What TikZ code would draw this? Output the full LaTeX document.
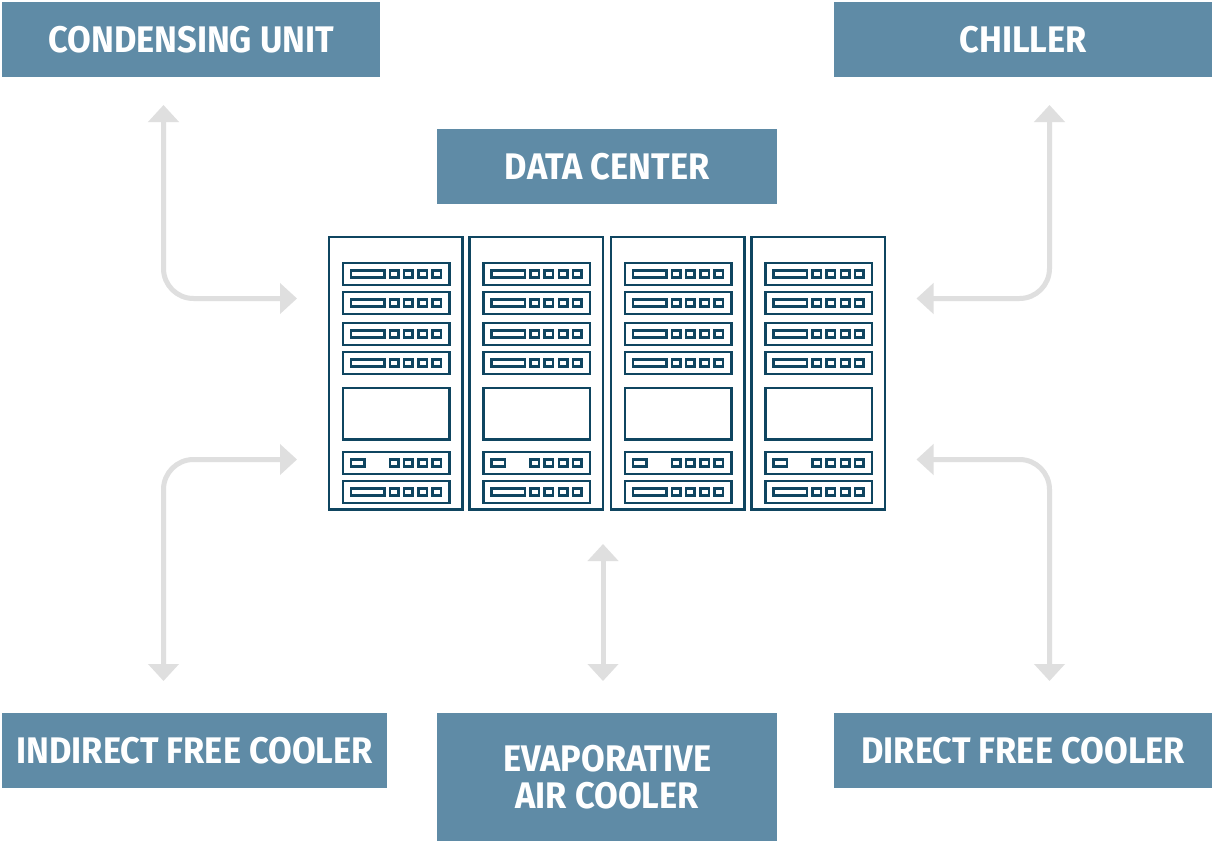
\documentclass[tikz,border=0pt]{standalone}
\usepackage{fontspec}
\setmainfont{Fira Sans}[BoldFont={Fira Sans Bold},FakeStretch=0.93]
\usetikzlibrary{arrows.meta}
\definecolor{boxblue}{HTML}{5F8BA6}
\definecolor{rackblue}{HTML}{0F4560}
\definecolor{arrowgrey}{HTML}{DFDFDF}
\tikzset{
  x=1pt,y=-1pt,
  label box/.style={fill=boxblue,text=white,anchor=north west,inner sep=0pt,align=center,
    font=\fontsize{37}{37}\selectfont\bfseries},
  link/.style={draw=arrowgrey,line width=5pt,rounded corners=30pt,
    {Triangle[width=30pt,length=17pt]}-{Triangle[width=30pt,length=17pt]}},
  rackline/.style={draw=rackblue,line width=2.4pt},
  pics/unitdots/.style={code={
    \foreach \dx in {47,61,75.5,89.5}{\draw[rackline] (\dx,-3.5) rectangle ++(8.5,7);}
  }},
  pics/unitlong/.style={code={
    \draw[rackline] (0,-11) rectangle (106.5,11);
    \draw[rackline] (8,-3.5) rectangle (41.5,3.5);
    \pic at (0,0) {unitdots};
  }},
  pics/unitshort/.style={code={
    \draw[rackline] (0,-11) rectangle (106.5,11);
    \draw[rackline] (8,-3.5) rectangle (21.5,3.5);
    \pic at (0,0) {unitdots};
  }},
  pics/rackicon/.style={code={
    \draw[rackline] (0,0) rectangle (133.5,272.5);
    \pic at (14,37) {unitlong};
    \pic at (14,66) {unitlong};
    \pic at (14,97) {unitlong};
    \pic at (14,126) {unitlong};
    \draw[rackline] (14,151) rectangle (120.5,202.5);
    \pic at (14,226) {unitshort};
    \pic at (14,255) {unitlong};
  }},
}
\begin{document}
\begin{tikzpicture}
\useasboundingbox (0,0) rectangle (1212,843);
\fill[white] (0,0) rectangle (1212,843);

\node[label box,minimum width=378pt,minimum height=75pt] (condensing) at (2,2) {CONDENSING UNIT};
\node[label box,minimum width=378pt,minimum height=75pt] (chiller) at (834,2) {CHILLER};
\node[label box,minimum width=340pt,minimum height=75pt] (datacenter) at (437,129) {DATA CENTER};
\node[label box,minimum width=385pt,minimum height=75pt] (indirect) at (2,713) {INDIRECT FREE COOLER};
\node[label box,minimum width=340pt,minimum height=128pt] (evaporative) at (437,713) {EVAPORATIVE\\[-0.5pt]AIR COOLER};
\node[label box,minimum width=378pt,minimum height=75pt] (direct) at (834,713) {DIRECT FREE COOLER};

\pic at (329,237) {rackicon};
\pic at (469.5,237) {rackicon};
\pic at (611,237) {rackicon};
\pic at (751.5,237) {rackicon};

\coordinate (cuEnd) at (163.5,105);
\coordinate (cuRack) at (297,298.5);
\coordinate (chEnd) at (1049.5,105);
\coordinate (chRack) at (916.5,298.5);
\coordinate (ifEnd) at (163.5,681);
\coordinate (ifRack) at (297,459.5);
\coordinate (dfEnd) at (1049.5,681);
\coordinate (dfRack) at (916.5,459.5);
\coordinate (evEnd) at (603,681);
\coordinate (evRack) at (603,544);

\draw[link] (cuEnd) |- (cuRack);
\draw[link] (chEnd) |- (chRack);
\draw[link] (ifEnd) |- (ifRack);
\draw[link] (dfEnd) |- (dfRack);
\draw[link] (evEnd) -- (evRack);
\end{tikzpicture}
\end{document}
